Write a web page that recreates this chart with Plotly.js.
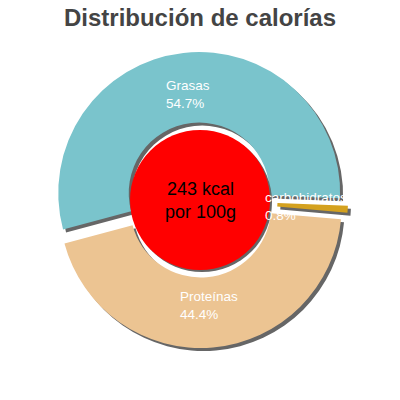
<!DOCTYPE html>
<html>
<head>
<meta charset="utf-8">
<script src="https://cdn.plot.ly/plotly-3.0.1.min.js"></script>
<style>
  html, body { margin: 0; padding: 0; background: #fff; }
  #chart { width: 400px; height: 400px; }
</style>
</head>
<body>
<div id="chart"></div>
<script>
const labels = ["Grasas", "carbohidratos", "Proteínas"];
const values = [54.7, 0.8, 44.4];
const colors = ["#7ac4cc", "#d4a11e", "#ecc492"];
const centerText = ["243 kcal", "por 100g"];

const ROTATION = -105;
const PULL = 0.05;
const FONT = "Liberation Sans, Arial, sans-serif";

// label positions follow the slice angles
const total = values.reduce((a, b) => a + b, 0);
const annotations = [];
let cum = 0;
values.forEach((v, i) => {
  const mid = (ROTATION + (cum + v / 2) / total * 360) * Math.PI / 180;
  cum += v;
  const r = 106 / 400;
  annotations.push({
    x: 0.5 + r * Math.sin(mid), y: 0.5 + r * Math.cos(mid),
    xref: "paper", yref: "paper", showarrow: false,
    text: labels[i] + "<br>" + v.toFixed(1) + "%",
    align: "left", xanchor: "center", yanchor: "middle",
    font: { family: FONT, size: 13.5, color: "#fff" }
  });
});
annotations.push({
  x: 0.5, y: 0.5, xref: "paper", yref: "paper", showarrow: false,
  text: centerText.join("<br>"),
  font: { family: FONT, size: 18, color: "#000" }
});

const dom = [0.13, 0.87];
const off = 3 / 400;

Plotly.newPlot("chart", [
  {
    type: "pie", labels, values, sort: false, direction: "clockwise",
    rotation: ROTATION, hole: 0.5, pull: PULL,
    marker: { colors: values.map(() => "#666") },
    textinfo: "none", hoverinfo: "skip",
    domain: { x: [dom[0] + off, dom[1] + off], y: [dom[0] - off, dom[1] - off] }
  },
  {
    type: "pie", labels, values, sort: false, direction: "clockwise",
    rotation: ROTATION, hole: 0.5, pull: PULL,
    marker: { colors },
    textinfo: "none",
    domain: { x: dom, y: dom }
  }
], {
  title: {
    text: "Distribución de calorías",
    font: { family: FONT, size: 24, color: "#444", weight: "bold" },
    x: 0.5, xanchor: "center", y: 0.957, yanchor: "middle", yref: "container"
  },
  showlegend: false,
  margin: { t: 0, l: 0, r: 0, b: 0 },
  paper_bgcolor: "#fff",
  shapes: [
    { type: "circle", xref: "paper", yref: "paper", layer: "above",
      x0: 0.33, x1: 0.68, y0: 0.32, y1: 0.67, fillcolor: "#666", line: { width: 0 } },
    { type: "circle", xref: "paper", yref: "paper", layer: "above",
      x0: 0.325, x1: 0.675, y0: 0.325, y1: 0.675, fillcolor: "#ff0000", line: { width: 0 } }
  ],
  annotations
}, { displayModeBar: false });
</script>
</body>
</html>
